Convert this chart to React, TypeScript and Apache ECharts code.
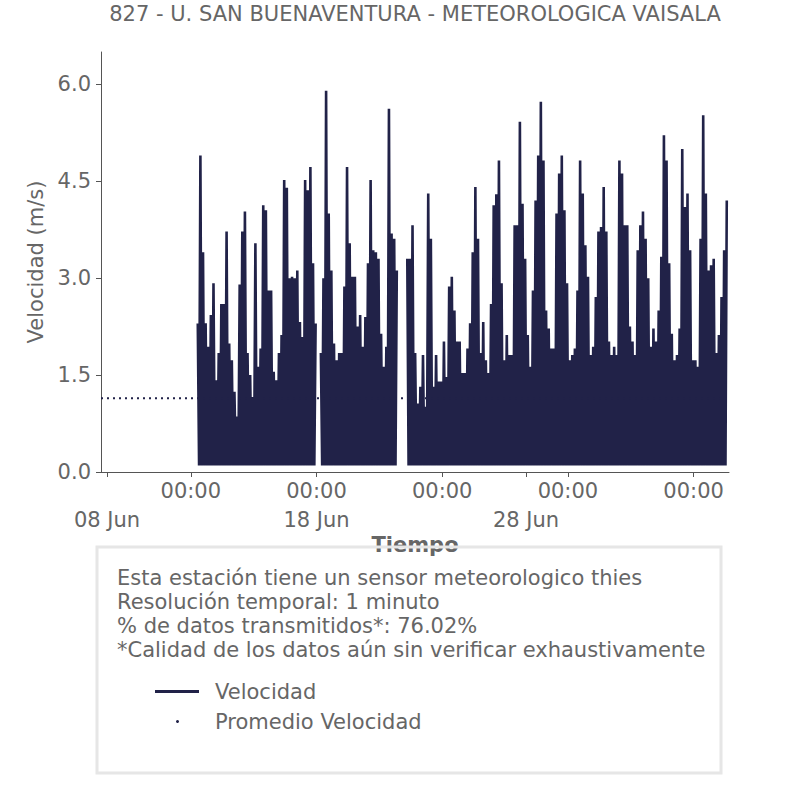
import React, { useEffect, useRef } from 'react';
import * as echarts from 'echarts';

const FONT = '"DejaVu Sans", sans-serif';
const FONT_SIZE = 21;
const TEXT_COLOR = '#666666';
const AXIS_COLOR = '#555555';
const LINE_COLOR = '#212248';

const TITLE = '827 - U. SAN BUENAVENTURA - METEOROLOGICA VAISALA';
const Y_NAME = 'Velocidad (m/s)';
const X_NAME = 'Tiempo';
const SERIES_NAMES = ['Velocidad', 'Promedio Velocidad'];
const INFO_LINES = [
  'Esta estación tiene un sensor meteorologico thies',
  'Resolución temporal: 1 minuto',
  '% de datos transmitidos*: 76.02%',
  '*Calidad de los datos aún sin verificar exhaustivamente',
];

// x-axis (UTC)
const AXIS_START = '2023-06-07T17:08:00Z';
const AXIS_END = '2023-07-07T16:33:00Z';
const HOUR_TICKS = [
  '2023-06-12T00:00:00Z',
  '2023-06-18T00:00:00Z',
  '2023-06-24T00:00:00Z',
  '2023-06-30T00:00:00Z',
  '2023-07-06T00:00:00Z',
];
const DATE_TICKS = ['2023-06-08T00:00:00Z', '2023-06-18T00:00:00Z', '2023-06-28T00:00:00Z'];
const MONTHS = ['Jan', 'Feb', 'Mar', 'Apr', 'May', 'Jun', 'Jul', 'Aug', 'Sep', 'Oct', 'Nov', 'Dec'];

// y-axis
const Y_TICKS = [0, 1.5, 3.0, 4.5, 6.0];
const Y_MAX = 6.5;

// data: envelope of the 1-minute record, one peak every 3 hours
const DATA_START = '2023-06-12T08:00:00Z';
const STEP_HOURS = 3;
const VELOCIDAD_PEAKS: (number | null)[] = [
  2.3, 4.9, 3.4, 2.3, 1.94, 2.43, 2.92, 1.42, 1.84, 2.6,
  2.6, 3.72, 1.99, 1.73, 1.24, 0.86, 2.9, 3.72, 4.03, 1.84,
  1.5, 1.16, 3.54, 1.63, 1.91, 4.13, 4.05, 2.81, 2.81, 1.55,
  1.42, 1.84, 2.12, 4.52, 4.4, 3.0, 3.02, 3.0, 3.12, 2.32,
  2.09, 4.52, 4.36, 4.72, 3.23, 2.3, null, 1.84, 3.0, 5.9,
  4.0, 3.12, 1.99, 1.73, 1.84, 1.84, 2.87, 4.72, 3.54, 3.02,
  3.02, 2.25, 2.43, 1.94, 2.4, 3.23, 4.52, 3.43, 3.4, 3.3,
  2.14, 1.63, 1.94, 5.62, 3.69, 3.61, 3.12, null, null, null,
  3.3, 3.3, 3.82, 1.84, 1.06, 1.32, 1.81, 1.01, 4.31, 3.61,
  1.32, 1.81, 1.4, 1.4, 2.02, 1.47, 2.87, 3.02, 2.5, 2.02,
  2.02, 1.53, 1.53, 1.91, 2.3, 3.4, 4.41, 3.61, 1.84, 2.32,
  1.73, 1.53, 2.6, 4.13, 4.3, 4.82, 2.92, 1.73, 2.12, 1.81,
  1.81, 3.82, 3.82, 5.42, 4.15, 3.3, 2.12, 1.63, 2.81, 4.2,
  4.9, 5.73, 4.82, 2.5, 2.22, 1.91, 1.91, 4.0, 4.62, 4.9,
  4.05, 2.92, 1.73, 1.81, 1.91, 2.81, 4.82, 4.31, 3.51, 3.02,
  1.81, 1.94, 2.71, 3.72, 3.79, 4.41, 3.72, 2.02, 1.81, 1.94,
  1.81, 4.82, 4.62, 3.82, 3.82, 2.25, 2.02, 1.81, 3.43, 3.82,
  4.03, 3.61, 3.0, 1.94, 2.22, 2.02, 2.5, 3.33, 5.21, 4.82,
  3.23, 2.14, 1.73, 1.81, 2.22, 5.0, 4.1, 4.31, 3.43, 1.73,
  1.73, 1.63, 3.61, 5.52, 4.31, 3.12, 3.2, 3.3, 1.84, 2.12,
  2.71, 3.43, 4.2,
];
const VELOCIDAD_FLOOR = 0.1;
const PROMEDIO_VELOCIDAD = 1.14;

const HOUR = 3600000;

function buildVelocidad() {
  const start = Date.parse(DATA_START);
  const step = STEP_HOURS * HOUR;
  const out: (number | null)[][] = [];
  VELOCIDAD_PEAKS.forEach((v, i) => {
    const t = start + i * step;
    out.push([t, v]);
    const next = VELOCIDAD_PEAKS[i + 1];
    if (v !== null && next !== undefined && next !== null) {
      out.push([t + step / 2, VELOCIDAD_FLOOR]);
    }
  });
  return out;
}

function fmtDate(v: number) {
  const d = new Date(v);
  const dd = String(d.getUTCDate()).padStart(2, '0');
  return dd + ' ' + MONTHS[d.getUTCMonth()];
}
function fmtHour(v: number) {
  const d = new Date(v);
  return String(d.getUTCHours()).padStart(2, '0') + ':' + String(d.getUTCMinutes()).padStart(2, '0');
}

export default function App() {
  const ref = useRef<HTMLDivElement>(null);
  useEffect(() => {
    document.body.style.margin = '0';
    if (!ref.current) return;
    const chart = echarts.init(ref.current, undefined, { renderer: 'svg' });
    const xMin = Date.parse(AXIS_START);
    const xMax = Date.parse(AXIS_END);
    const hourTicks = HOUR_TICKS.map((s) => Date.parse(s));
    const dateTicks = DATE_TICKS.map((s) => Date.parse(s));
    const textBase = { color: TEXT_COLOR, fontSize: FONT_SIZE, fontFamily: FONT };

    chart.setOption({
      animation: false,
      backgroundColor: '#ffffff',
      title: {
        text: TITLE,
        left: 415,
        top: 3,
        padding: 0,
        textAlign: 'center',
        textStyle: { ...textBase, fontWeight: 'normal' },
      },
      grid: { left: 101, right: 77, top: 52, bottom: 334, containLabel: false },
      xAxis: [
        {
          type: 'value',
          min: xMin,
          max: xMax,
          position: 'bottom',
          splitLine: { show: false },
          axisLine: { show: true, lineStyle: { color: AXIS_COLOR, width: 1 } },
          axisTick: { show: true, length: 5, customValues: hourTicks, lineStyle: { color: AXIS_COLOR } },
          axisLabel: { customValues: hourTicks, formatter: (v: number) => fmtHour(v), margin: 8, ...textBase },
          name: X_NAME,
          nameLocation: 'middle',
          nameGap: 62,
          nameTextStyle: { ...textBase, fontWeight: 'bold' },
        },
        {
          type: 'value',
          min: xMin,
          max: xMax,
          position: 'bottom',
          offset: 0,
          splitLine: { show: false },
          axisLine: { show: false },
          axisTick: { show: true, length: 5, customValues: dateTicks, lineStyle: { color: AXIS_COLOR } },
          axisLabel: { customValues: dateTicks, formatter: (v: number) => fmtDate(v), margin: 37, ...textBase },
        },
      ],
      yAxis: {
        type: 'value',
        min: 0,
        max: Y_MAX,
        splitLine: { show: false },
        axisLine: { show: true, lineStyle: { color: AXIS_COLOR, width: 1 } },
        axisTick: { show: true, length: 5, customValues: Y_TICKS, lineStyle: { color: AXIS_COLOR } },
        axisLabel: { customValues: Y_TICKS, formatter: (v: number) => v.toFixed(1), margin: 10, ...textBase },
        name: Y_NAME,
        nameLocation: 'middle',
        nameGap: 47,
        nameTextStyle: { ...textBase },
      },
      legend: [
        {
          data: [{ name: SERIES_NAMES[0], icon: 'path://M0,0h44v3h-44z' }],
          orient: 'vertical',
          left: 155,
          top: 681,
          padding: 0,
          itemWidth: 44,
          itemHeight: 24,
          textStyle: { ...textBase, padding: [0, 0, 0, 11] },
        },
        {
          data: [{ name: SERIES_NAMES[1], icon: 'circle' }],
          orient: 'vertical',
          left: 176,
          top: 711,
          padding: 0,
          itemWidth: 3,
          itemHeight: 3,
          textStyle: { ...textBase, padding: [0, 0, 0, 31] },
        },
      ],
      series: [
        {
          name: SERIES_NAMES[0],
          type: 'line',
          xAxisIndex: 0,
          showSymbol: false,
          symbol: 'none',
          connectNulls: false,
          color: LINE_COLOR,
          lineStyle: { color: LINE_COLOR, width: 2.6 },
          data: buildVelocidad(),
          z: 2,
        },
        {
          name: SERIES_NAMES[1],
          type: 'line',
          xAxisIndex: 0,
          symbol: 'none',
          color: LINE_COLOR,
          lineStyle: { color: LINE_COLOR, width: 2, type: [2, 4] },
          data: [
            [xMin, PROMEDIO_VELOCIDAD],
            [xMax, PROMEDIO_VELOCIDAD],
          ],
          z: 3,
        },
      ],
      graphic: [
        {
          type: 'rect',
          z: 100,
          shape: { x: 97, y: 547, width: 624, height: 226 },
          style: { fill: 'rgba(0,0,0,0)', stroke: '#e6e6e6', lineWidth: 3 },
        },
        {
          type: 'text',
          z: 101,
          x: 117,
          y: 566,
          style: {
            text: INFO_LINES.join('\n'),
            fill: TEXT_COLOR,
            fontSize: FONT_SIZE,
            fontFamily: FONT,
            lineHeight: 24,
          },
        },
      ],
    });
    return () => chart.dispose();
  }, []);
  return <div ref={ref} style={{ width: 806, height: 806 }} />;
}
